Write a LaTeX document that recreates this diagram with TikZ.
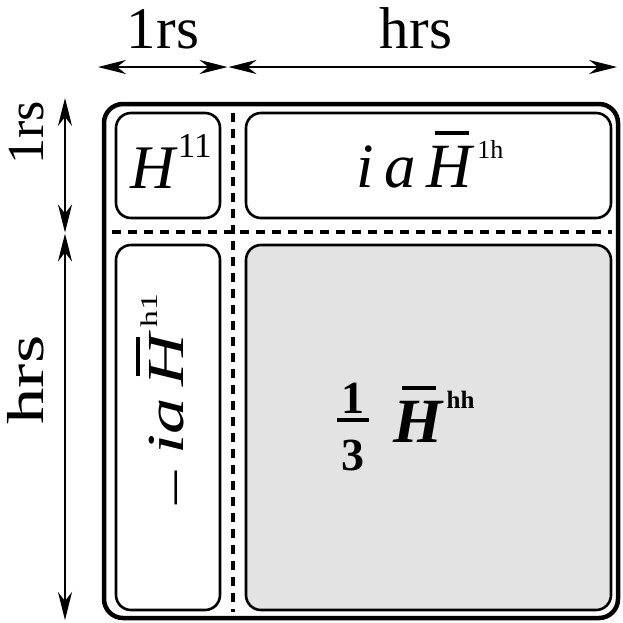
\documentclass[tikz,border=0pt]{standalone}
\usepackage{fontspec}
\setmainfont{Liberation Serif}
\usetikzlibrary{arrows.meta}
\newcommand\barH{\makebox[0pt][l]{\hspace{0.14em}\raisebox{0.83em}{\rule{0.54em}{0.065em}}}\textit{H}}
\newcommand\fs[1]{\fontsize{#1}{#1}\selectfont}
\begin{document}
\begin{tikzpicture}[x=1pt,y=-1pt,
  outerbox/.style={draw,line width=4.5pt,rounded corners=19pt,minimum width=514pt,minimum height=514pt,inner sep=0pt},
  inbox/.style={draw,line width=2.6pt,rounded corners=15pt,inner sep=0pt},
  sep/.style={line width=4pt,dash pattern=on 9pt off 7pt},
  dim/.style={line width=1.4pt,{Stealth[length=28pt,width=14pt,inset=9pt]}-{Stealth[length=28pt,width=14pt,inset=9pt]}},
  txt/.style={inner sep=0pt,anchor=base}]
\useasboundingbox (0,0) rectangle (623,622);
% outer box
\node[outerbox] (outer) at (361,361) {};
% inner boxes
\node[inbox,minimum width=104pt,minimum height=105pt] (b11) at (168,165.5) {};
\node[inbox,minimum width=365pt,minimum height=105pt] (b1h) at (428.5,165.5) {};
\node[inbox,minimum width=104pt,minimum height=365pt] (bh1) at (168,427.5) {};
\node[inbox,fill=black!11,minimum width=365pt,minimum height=365pt] (bhh) at (428.5,427.5) {};
% separators
\coordinate (vs1) at (233,113); \coordinate (vs2) at (233,612);
\coordinate (hs1) at (112,232); \coordinate (hs2) at (612,232);
\draw[sep] (vs1) -- (vs2);
\draw[sep] (hs1) -- (hs2);
% dimension arrows top
\coordinate (t0) at (98,67); \coordinate (t1) at (227.5,67);
\coordinate (t2) at (228.5,67); \coordinate (t3) at (617,67);
\draw[dim] (t0) -- (t1);
\draw[dim] (t2) -- (t3);
\node[txt] (l1top) at (163,48) {\fs{59}1rs};
\node[txt] (lhtop) at (416,48) {\fs{59}hrs};
% dimension arrows left
\coordinate (s0) at (65,98); \coordinate (s1) at (65,232.5);
\coordinate (s2) at (65,233.5); \coordinate (s3) at (65,620);
\draw[dim] (s0) -- (s1);
\draw[dim] (s2) -- (s3);
\node[txt,rotate=90] (l1left) at (43,133) {\fs{52}1rs};
\node[txt,rotate=90] (lhleft) at (43,380) {\fs{52}\scalebox{1.4}[1]{hrs}};
% contents
\node[txt] (t11) at (171,188) {\fs{62}\textit{H}\raisebox{31pt}{\fs{35}11}};
\node[txt] (t1h) at (430,187) {\fs{63}\textit{i}\,\textit{a}\,\barH\hspace{0.04em}\raisebox{29pt}{\fs{26}1h}};
\node[txt,rotate=90] (th1) at (183,401) {\fs{52}\scalebox{1.4}[1]{\raisebox{-0.2em}{\textminus}\,\textit{i}\textit{a}\,\barH\hspace{0.04em}\raisebox{0.5em}{\fs{24}h1}}};
\node[txt] (one) at (353,413) {\fs{46}\bfseries 1};
\node[txt] (three) at (353,470) {\fs{46}\bfseries 3};
\coordinate (fb1) at (337,420); \coordinate (fb2) at (369,420);
\draw[line width=4pt] (fb1) -- (fb2);
\node[txt] (thh) at (434,442) {\fs{63}\bfseries\barH\hspace{0.04em}\raisebox{34pt}{\fs{25}\bfseries hh}};
\end{tikzpicture}
\end{document}
